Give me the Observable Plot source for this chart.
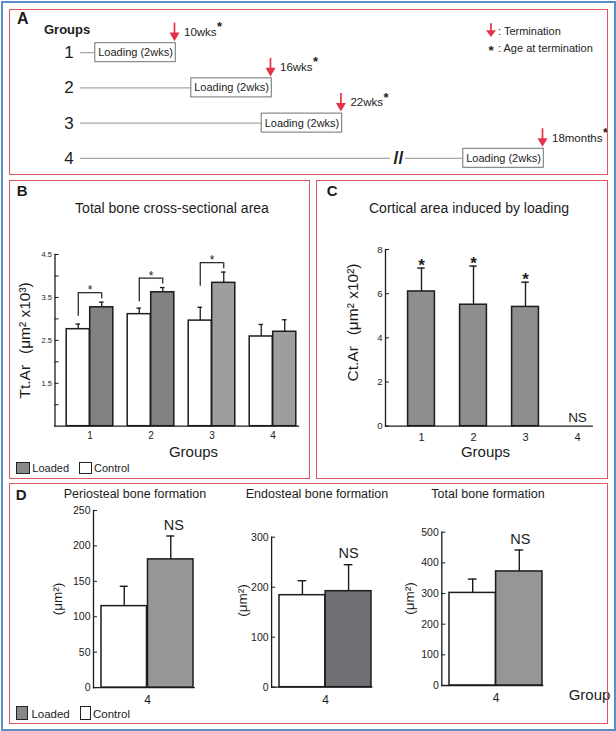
<!DOCTYPE html>
<html>
<head>
<meta charset="utf-8">
<script src="https://cdn.jsdelivr.net/npm/d3@7"></script>
<script src="https://cdn.jsdelivr.net/npm/@observablehq/plot@0.6"></script>
<style>
  html,body{margin:0;padding:0;background:#fff;}
  #page{position:relative;width:616px;height:731px;overflow:hidden;background:#fff;
        font-family:"Liberation Sans",Arial,Helvetica,sans-serif;color:#1c1c1c;}
  .abs{position:absolute;white-space:nowrap;line-height:1;}
  .chart{position:absolute;}
  .chart svg{display:block;overflow:visible;}
  .frame{position:absolute;box-sizing:border-box;pointer-events:none;}
  .swatch{position:absolute;box-sizing:border-box;border:1px solid #222;}
</style>
</head>
<body>
<div id="page"></div>
<script>
// ================= DATA =================
// Panel A : loading schedule
const groups = [1, 2, 3, 4];
const terminationAge = ["10wks", "16wks", "22wks", "18months"];
const timelineEnd = [10, 16, 20.4, 33];        // schematic timeline position of termination
const timelineBreak = [null, null, null, 24];  // axis break on group 4 line
const loadingLabel = "Loading (2wks)";

// Panel B : total bone cross-sectional area (x10^3 µm²)
const bGroups = [1, 2, 3, 4];
const bControl = [2.76, 3.11, 2.96, 2.59];
const bControlErr = [0.12, 0.14, 0.31, 0.28];
const bLoaded = [3.27, 3.62, 3.84, 2.70];
const bLoadedErr = [0.12, 0.11, 0.25, 0.28];
const bSignificant = [true, true, true, false];
const bTicks = [1, 1.5, 2, 2.5, 3, 3.5, 4, 4.5];
const bTickLabels = ["", "1.5", "", "2.5", "", "3.5", "", "4.5"];

// Panel C : cortical area induced by loading (x10^2 µm²)
const cGroups = [1, 2, 3, 4];
const cValue = [6.1, 5.5, 5.4, null];
const cErr = [1.06, 1.75, 1.12, null];
const cMark = ["*", "*", "*", "NS"];
const cTicks = [0, 2, 4, 6, 8];

// Panel D : bone formation, group 4 (µm²)
const dTitles = ["Periosteal bone formation", "Endosteal bone formation", "Total bone formation"];
const dGroup = "4";
const dControl = [115, 184, 302];
const dControlErr = [28, 29, 45];
const dLoaded = [181, 192, 372];
const dLoadedErr = [33, 53, 70];
const dMax = [250, 300, 500];
const dTicks = [[0, 50, 100, 150, 200, 250], [0, 100, 200, 300], [0, 100, 200, 300, 400, 500]];
const dMark = ["NS", "NS", "NS"];

// ================= HELPERS =================
const FONT = "'Liberation Sans', Arial, Helvetica, sans-serif";
const INK = "#1c1c1c";
const RED = "#e4324a";
const style = {background: "transparent", fontFamily: FONT, color: INK, overflow: "visible"};
const page = document.getElementById("page");

function put(node, left, top) {
  const w = document.createElement("div");
  w.className = "chart";
  w.style.left = left + "px";
  w.style.top = top + "px";
  w.appendChild(node);
  page.appendChild(w);
}
function txt(s, x, baseline, size, opt = {}) {
  const d = document.createElement("div");
  d.className = "abs";
  d.textContent = s;
  d.style.fontSize = size + "px";
  d.style.top = (baseline - 0.8465 * size) + "px";
  d.style.left = x + "px";
  if (opt.weight) d.style.fontWeight = opt.weight;
  if (opt.anchor === "middle") d.style.transform = "translateX(-50%)";
  page.appendChild(d);
  return d;
}
function box(cls, l, t, w, h, css = {}) {
  const d = document.createElement("div");
  d.className = cls;
  Object.assign(d.style, {left: l + "px", top: t + "px", width: w + "px", height: h + "px"}, css);
  page.appendChild(d);
  return d;
}
const ctx = document.createElement("canvas").getContext("2d");
function textWidth(s, font) { ctx.font = font; return ctx.measureText(s).width; }

// ================= PANEL A =================
{
  const x0 = 14, x1 = 606, u0 = 0, u1 = 37;
  const pxPerUnit = (x1 - x0) / (u1 - u0);
  const lineStart = 4.15;
  const rows = groups.map((g, i) => ({group: g, age: terminationAge[i], end: timelineEnd[i], brk: timelineBreak[i]}));
  const boxL = d => d.end - 4.95, boxR = d => d.end + 0.08;
  const segs = rows.flatMap(d => d.brk == null
    ? [{group: d.group, a: lineStart, b: boxL(d)}]
    : [{group: d.group, a: lineStart, b: d.brk - 0.47}, {group: d.group, a: d.brk + 0.47, b: boxL(d)}]);
  const ageFont = "11.5px " + FONT;
  const svg = Plot.plot({
    width: 616, height: 175, margin: 0,
    x: {domain: [u0, u1], range: [x0, x1], axis: null},
    y: {domain: [0, 4], range: [17, 157.8], axis: null},
    style,
    marks: [
      Plot.ruleY(segs, {y: "group", x1: "a", x2: "b", stroke: "#222", strokeWidth: 1, strokeDasharray: "1,1"}),
      Plot.rect(rows, {x1: boxL, x2: boxR, y1: d => d.group - 0.27, y2: d => d.group + 0.27, fill: "white", stroke: "#707070", strokeWidth: 1}),
      Plot.text(rows, {x: d => (boxL(d) + boxR(d)) / 2, y: "group", text: () => loadingLabel, fontSize: 11}),
      Plot.text(rows, {x: () => lineStart, y: "group", text: d => String(d.group), dx: -12, fontSize: 17}),
      Plot.text(rows.filter(d => d.brk != null), {x: "brk", y: "group", text: () => "//", fontSize: 18, fontWeight: "bold"}),
      Plot.ruleX(rows, {x: "end", y1: d => d.group - 0.84, y2: d => d.group - 0.52, stroke: RED, strokeWidth: 1.7}),
      Plot.dot(rows, {x: "end", y: d => d.group - 0.49, symbol: "triangle", r: 3.7, fill: RED, stroke: "none", rotate: 180}),
      Plot.text(rows, {x: "end", y: d => d.group - 0.58, text: "age", textAnchor: "start", dx: 9.5, fontSize: 11.5}),
      Plot.text(rows, {x: d => d.end + (9.5 + textWidth(d.age, ageFont) + 0.5) / pxPerUnit, y: d => d.group - 0.82,
        text: () => "*", textAnchor: "start", dy: 3.2, fontSize: 13, fontWeight: "bold"})
    ]
  });
  put(svg, 0, 0);
  txt("A", 17, 25, 16, {weight: "bold"});
  txt("Groups", 44, 34, 13, {weight: "bold"});
  // legend
  const lg = document.createElement("div");
  lg.className = "abs";
  Object.assign(lg.style, {left: "486px", top: "22px"});
  lg.innerHTML = `<svg width="12" height="16" style="display:block"><line x1="5" y1="1.3" x2="5" y2="10" stroke="${RED}" stroke-width="1.7"/><path d="M0,8.3L10,8.3L5,15Z" fill="${RED}"/></svg>`;
  page.appendChild(lg);
  txt(": Termination", 498, 35.6, 11);
  txt("*", 488.5, 55, 13.5, {weight: "bold"});
  txt(": Age at termination", 498, 52.2, 11);
}

// ================= PANEL B =================
{
  const L = 0, T = 175, Wd = 312, H = 305;
  const axisX = 54.5, axisEnd = 298, top = 254, bottom = 425.7;
  const range = [58.1, 303.7];
  const bw = (range[1] - range[0]) / 4;
  const barW = 23.5, gap = bw / 2 - barW;
  const cOff = -(bw / 2 - gap - barW / 2), lOff = -cOff;   // bar centres relative to band centre
  const cap = 5;
  const rows = bGroups.map((g, i) => ({group: g, control: bControl[i], cErr: bControlErr[i], loaded: bLoaded[i], lErr: bLoadedErr[i], sig: bSignificant[i]}));
  const sig = rows.filter(d => d.sig);
  const brTop = d => d.loaded + d.lErr + 0.22;
  const capInsetNear = bw / 2 + cOff - cap / 2, capInsetFar = bw - capInsetNear - cap;
  const base = 0.5;
  const svg = Plot.plot({
    width: Wd, height: H, marginLeft: axisX - L, marginRight: L + Wd - axisEnd, marginTop: top - T, marginBottom: T + H - bottom,
    x: {type: "band", domain: bGroups, range, padding: 0},
    y: {domain: [base, 4.5]},
    style,
    marks: [
      Plot.barY(rows, {x: "group", y1: base, y2: "control", fill: "white", stroke: INK, strokeWidth: 1.5, insetLeft: gap, insetRight: bw / 2}),
      Plot.barY(rows.filter(d => d.group <= 2), {x: "group", y1: base, y2: "loaded", fill: "#828282", stroke: INK, strokeWidth: 1.5, insetLeft: bw / 2, insetRight: gap}),
      Plot.barY(rows.filter(d => d.group > 2), {x: "group", y1: base, y2: "loaded", fill: "#9e9e9e", stroke: INK, strokeWidth: 1.5, insetLeft: bw / 2, insetRight: gap}),
      Plot.ruleX(rows, {x: "group", y1: "control", y2: d => d.control + d.cErr, dx: cOff, stroke: INK, strokeWidth: 1.3}),
      Plot.ruleX(rows, {x: "group", y1: "loaded", y2: d => d.loaded + d.lErr, dx: lOff, stroke: INK, strokeWidth: 1.3}),
      Plot.tickY(rows, {x: "group", y: d => d.control + d.cErr, insetLeft: capInsetNear, insetRight: capInsetFar, stroke: INK, strokeWidth: 1.3}),
      Plot.tickY(rows, {x: "group", y: d => d.loaded + d.lErr, insetLeft: capInsetFar, insetRight: capInsetNear, stroke: INK, strokeWidth: 1.3}),
      // significance brackets
      Plot.tickY(sig, {x: "group", y: brTop, insetLeft: bw / 2 + cOff, insetRight: bw / 2 - lOff, stroke: INK, strokeWidth: 1.2}),
      Plot.ruleX(sig, {x: "group", y1: d => brTop(d) - 0.55, y2: brTop, dx: cOff, stroke: INK, strokeWidth: 1.2}),
      Plot.ruleX(sig, {x: "group", y1: d => brTop(d) - 0.14, y2: brTop, dx: lOff, stroke: INK, strokeWidth: 1.2}),
      Plot.text(sig, {x: "group", y: brTop, text: () => "*", dy: -2.3, fontSize: 12}),
      Plot.frame({anchor: "left", stroke: INK, strokeWidth: 1.3}),
      Plot.frame({anchor: "bottom", stroke: INK, strokeWidth: 1.3}),
      Plot.axisY({ticks: bTicks, tickSize: 4, dx: 4, tickFormat: () => "", label: null}),
      Plot.axisY({ticks: bTicks, tickSize: 0, tickPadding: 3, tickFormat: (d, i) => bTickLabels[i], fontSize: 7.5, label: null}),
      Plot.axisX({tickSize: 0, tickPadding: 6, fontSize: 10, label: null}),
      Plot.text(["Tt.Ar\u2002\u2009(\u03bcm\u00b2 x10\u00b3)"], {text: d => d, frameAnchor: "left", textAnchor: "middle", lineAnchor: "middle", rotate: -90, dx: 25 - axisX, dy: 0, fontSize: 15.5}),
      Plot.text(["Groups"], {text: d => d, frameAnchor: "bottom", lineAnchor: "middle", dx: 193 - (axisX + axisEnd) / 2, dy: 26.3, fontSize: 15})
    ]
  });
  put(svg, L, T);
  txt("B", 16.7, 195.7, 15, {weight: "bold"});
  txt("Total bone cross-sectional area", 172, 213.3, 14, {anchor: "middle"});
  box("swatch", 16, 462, 14, 11.5, {background: "#888"});
  txt("Loaded", 32.3, 472.7, 11);
  box("swatch", 79, 462, 12.7, 11.5, {background: "#fff"});
  txt("Control", 94, 472.7, 11);
}

// ================= PANEL C =================
{
  const L = 310, T = 175, Wd = 306, H = 305;
  const axisX = 385, axisEnd = 591.7, top = 249, bottom = 425.7;
  const range = [84.07, 293.94];
  const bw = (range[1] - range[0]) / 4;
  const barW = 27.3, cap = 8;
  const rows = cGroups.map((g, i) => ({group: g, value: cValue[i], err: cErr[i], mark: cMark[i]}));
  const bars = rows.filter(d => d.value != null);
  const svg = Plot.plot({
    width: Wd, height: H, marginLeft: axisX - L, marginRight: L + Wd - axisEnd, marginTop: top - T, marginBottom: T + H - bottom,
    x: {type: "band", domain: cGroups, range, padding: 0},
    y: {domain: [0, 8]},
    style,
    marks: [
      Plot.barY(bars, {x: "group", y: "value", fill: "#8e8e8e", stroke: INK, strokeWidth: 1.5, insetLeft: (bw - barW) / 2, insetRight: (bw - barW) / 2}),
      Plot.ruleX(bars, {x: "group", y1: "value", y2: d => d.value + d.err, stroke: INK, strokeWidth: 1.4}),
      Plot.tickY(bars, {x: "group", y: d => d.value + d.err, insetLeft: (bw - cap) / 2, insetRight: (bw - cap) / 2, stroke: INK, strokeWidth: 1.4}),
      Plot.text(bars, {x: "group", y: d => d.value + d.err, text: "mark", dy: -2.8, fontSize: 17, fontWeight: "bold"}),
      Plot.text(rows.filter(d => d.value == null), {x: "group", y: () => 0, text: "mark", dy: -8.7, fontSize: 13.5}),
      Plot.frame({anchor: "left", stroke: INK, strokeWidth: 1.3}),
      Plot.frame({anchor: "bottom", stroke: INK, strokeWidth: 1.3}),
      Plot.axisY({ticks: cTicks, tickSize: 4, dx: 4, tickFormat: () => "", label: null}),
      Plot.axisY({ticks: cTicks, tickSize: 0, tickPadding: 3, fontSize: 9.5, label: null}),
      Plot.axisX({tickSize: 0, tickPadding: 7, fontSize: 11, label: null}),
      Plot.text(["Ct.Ar\u2002\u2009(\u03bcm\u00b2 x10\u00b2)"], {text: d => d, frameAnchor: "left", textAnchor: "middle", lineAnchor: "middle", rotate: -90, dx: 352.5 - axisX, dy: 322 - (top + bottom) / 2, fontSize: 15.5}),
      Plot.text(["Groups"], {text: d => d, frameAnchor: "bottom", lineAnchor: "middle", dx: 485 - (axisX + axisEnd) / 2, dy: 26.3, fontSize: 15})
    ]
  });
  put(svg, L, T);
  txt("C", 326.7, 195.7, 15, {weight: "bold"});
  txt("Cortical area induced by loading", 469, 212.7, 14, {anchor: "middle"});
}

// ================= PANEL D =================
{
  const T = 480, H = 251;
  const layout = [
    {left: 0, width: 205, axis: 93, bar0: 100.7, bar1: 193.7, top: 510, bottom: 687.1, fill: "#969696", labX: 57, labY: 598.5, nsDx: 3, title: 135},
    {left: 205, width: 205, axis: 271.1, bar0: 279, bar1: 371.3, top: 536.7, bottom: 686.7, fill: "#6e7073", labX: 242, labY: 600, nsDx: 0, title: 317},
    {left: 410, width: 206, axis: 441.3, bar0: 449, bar1: 542.2, top: 531.7, bottom: 685, fill: "#969696", labX: 409, labY: 598, nsDx: 1, title: 488}
  ];
  dTitles.forEach((title, i) => {
    const Ly = layout[i];
    const W = Ly.bar1 - Ly.bar0, cap = 9;
    const row = [{group: dGroup, control: dControl[i], cErr: dControlErr[i], loaded: dLoaded[i], lErr: dLoadedErr[i], mark: dMark[i]}];
    const near = W / 4 - cap / 2, far = W - near - cap;
    const marks = [
      Plot.barY(row, {x: "group", y: "control", fill: "white", stroke: INK, strokeWidth: 1.5, insetRight: W / 2}),
      Plot.barY(row, {x: "group", y: "loaded", fill: Ly.fill, stroke: INK, strokeWidth: 1.5, insetLeft: W / 2}),
      Plot.ruleX(row, {x: "group", y1: "control", y2: d => d.control + d.cErr, dx: -W / 4, stroke: INK, strokeWidth: 1.4}),
      Plot.ruleX(row, {x: "group", y1: "loaded", y2: d => d.loaded + d.lErr, dx: W / 4, stroke: INK, strokeWidth: 1.4}),
      Plot.tickY(row, {x: "group", y: d => d.control + d.cErr, insetLeft: near, insetRight: far, stroke: INK, strokeWidth: 1.4}),
      Plot.tickY(row, {x: "group", y: d => d.loaded + d.lErr, insetLeft: far, insetRight: near, stroke: INK, strokeWidth: 1.4}),
      Plot.text(row, {x: "group", y: d => d.loaded + d.lErr, text: "mark", dx: W / 4 + Ly.nsDx, dy: -11, fontSize: 14.5}),
      Plot.frame({anchor: "left", stroke: INK, strokeWidth: 1.3}),
      Plot.frame({anchor: "bottom", stroke: INK, strokeWidth: 1.3}),
      Plot.axisY({ticks: dTicks[i], tickSize: 4, dx: 4, tickFormat: () => "", label: null}),
      Plot.axisY({ticks: dTicks[i], tickSize: 0, tickPadding: 3, fontSize: 10.5, label: null}),
      Plot.axisX({tickSize: 0, tickPadding: 8, fontSize: 12, label: null}),
      Plot.text(["(\u03bcm\u00b2)"], {text: d => d, frameAnchor: "left", textAnchor: "middle", lineAnchor: "middle", rotate: -90, dx: Ly.labX - Ly.axis, dy: Ly.labY - (Ly.top + Ly.bottom) / 2, fontSize: 13.5})
    ];
    if (i === 2) marks.push(Plot.text(["Group"], {text: d => d, frameAnchor: "bottom", lineAnchor: "middle", dx: 589 - (Ly.axis + Ly.bar1) / 2, dy: 10, fontSize: 15}));
    const svg = Plot.plot({
      width: Ly.width, height: H,
      marginLeft: Ly.axis - Ly.left, marginRight: Ly.left + Ly.width - Ly.bar1, marginTop: Ly.top - T, marginBottom: T + H - Ly.bottom,
      x: {type: "band", domain: [dGroup], range: [Ly.bar0 - Ly.left, Ly.bar1 - Ly.left], padding: 0},
      y: {domain: [0, dMax[i]]},
      style,
      marks
    });
    put(svg, Ly.left, T);
    txt(title, Ly.title, 498.5, 12.5, {anchor: "middle"});
  });
  txt("D", 15.7, 500, 15, {weight: "bold"});
  box("swatch", 15.7, 706, 12, 14, {background: "#888"});
  txt("Loaded", 31.4, 718.5, 11.5);
  box("swatch", 79.8, 706, 11.7, 14, {background: "#fff"});
  txt("Control", 93, 718.5, 11.5);
}

// ================= FRAMES =================
box("frame", 0.5, 0.5, 615, 730, {border: "2px solid #5a8fc6"});
const red = {border: "1.5px solid #dc5566"};
box("frame", 9, 8.5, 599, 166, red);
box("frame", 9, 179.5, 300.5, 299, red);
box("frame", 315.5, 179.5, 292, 299, red);
box("frame", 9, 483, 598.5, 241, red);
</script>
</body>
</html>
